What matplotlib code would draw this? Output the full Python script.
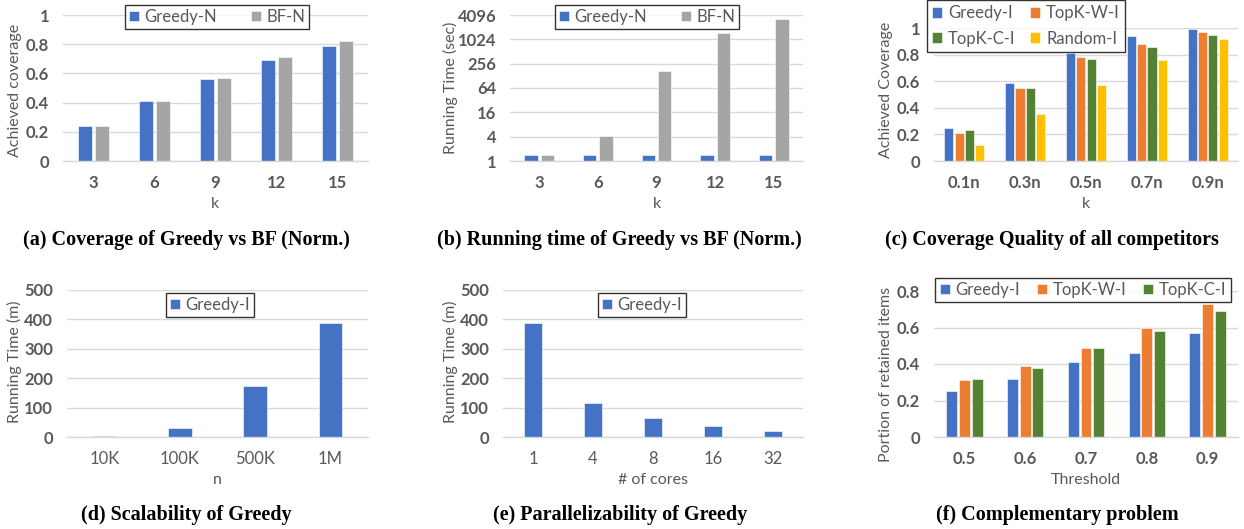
import numpy as np
import matplotlib
matplotlib.use("Agg")
import matplotlib.pyplot as plt
from matplotlib.ticker import FixedLocator, FixedFormatter

# ---------------- data ----------------
k_a = ["3", "6", "9", "12", "15"]
cov_greedy_n = [0.24, 0.41, 0.56, 0.69, 0.79]
cov_bf_n = [0.24, 0.41, 0.57, 0.71, 0.82]

time_greedy_n = [1.4, 1.4, 1.4, 1.4, 1.4]
time_bf_n = [1.4, 4.1, 172, 1500, 3300]

k_c = ["0.1n", "0.3n", "0.5n", "0.7n", "0.9n"]
cq_greedy = [0.25, 0.59, 0.81, 0.94, 0.99]
cq_topkw = [0.21, 0.55, 0.78, 0.88, 0.97]
cq_topkc = [0.23, 0.55, 0.77, 0.86, 0.95]
cq_random = [0.12, 0.35, 0.57, 0.76, 0.92]

n_d = ["10K", "100K", "500K", "1M"]
scal_greedy = [3, 32, 175, 387]

cores_e = ["1", "4", "8", "16", "32"]
par_greedy = [387, 117, 65, 37, 20]

thr_f = ["0.5", "0.6", "0.7", "0.8", "0.9"]
comp_greedy = [0.25, 0.32, 0.41, 0.46, 0.57]
comp_topkw = [0.31, 0.39, 0.49, 0.60, 0.73]
comp_topkc = [0.32, 0.38, 0.49, 0.58, 0.69]

# ---------------- style ----------------
BLUE = "#4472C4"
GRAY = "#A5A5A5"
ORANGE = "#ED7D31"
GREEN = "#548235"
YELLOW = "#FFC000"
TXT = "#595959"
GRID = "#D9D9D9"

plt.rcParams['font.family'] = ['Lato', 'DejaVu Sans']

W, H = 1244, 529
fig = plt.figure(figsize=(W / 100, H / 100), dpi=100)

TICK_FS = 12
LAB_FS = 11.5
LEG_FS = 12


def px_axes(x0, x1, ytop, ybot):
    return fig.add_axes([x0 / W, 1 - ybot / H, (x1 - x0) / W, (ybot - ytop) / H])


def style(ax, bold_x=True):
    for s in ["top", "right", "left"]:
        ax.spines[s].set_visible(False)
    ax.spines["bottom"].set_color(GRID)
    ax.spines["bottom"].set_linewidth(1.0)
    ax.grid(axis="y", color=GRID, linewidth=1.0)
    ax.set_axisbelow(True)
    ax.tick_params(axis="both", length=0)
    ax.tick_params(axis="y", pad=10, labelsize=TICK_FS, labelcolor=TXT)
    ax.tick_params(axis="x", pad=10, labelsize=TICK_FS, labelcolor=TXT)
    for t in ax.get_yticklabels():
        t.set_fontweight("bold")
    for t in ax.get_xticklabels():
        t.set_fontweight("bold" if bold_x else "normal")


def label_at(ax, text, px_x, px_y, axis):
    if axis == "y":
        ax.set_ylabel(text, fontsize=LAB_FS, color=TXT)
        ax.yaxis.set_label_coords(px_x / W, 1 - px_y / H, transform=fig.transFigure)
    else:
        ax.set_xlabel(text, fontsize=LAB_FS, color=TXT)
        ax.xaxis.set_label_coords(px_x / W, 1 - px_y / H, transform=fig.transFigure)


def grouped(ax, cats, series, colors, names, width, gap):
    x = np.arange(len(cats))
    n = len(series)
    step = width + gap
    offs = (np.arange(n) - (n - 1) / 2) * step
    for vals, c, nm, o in zip(series, colors, names, offs):
        ax.bar(x + o, vals, width, color=c, label=nm, edgecolor="white", linewidth=0.4)
    ax.set_xticks(x)
    ax.set_xticklabels(cats)
    ax.set_xlim(-0.5, len(cats) - 0.5)


def make_legend(handles, labels, cx, cy, ncol, colspace=2.0, labelspacing=0.45,
                borderpad=0.25):
    lg = fig.legend(handles, labels, loc="center",
                    bbox_to_anchor=(cx / W, 1 - cy / H), ncol=ncol,
                    frameon=True, fancybox=False, fontsize=LEG_FS,
                    handlelength=0.6, handleheight=0.6, handletextpad=0.35,
                    columnspacing=colspace, borderpad=borderpad,
                    labelspacing=labelspacing, borderaxespad=0)
    lg.get_frame().set_edgecolor("black")
    lg.get_frame().set_linewidth(1.0)
    for t in lg.get_texts():
        t.set_color(TXT)
    return lg


def legend(ax, cx, cy, ncol, colspace=2.0):
    h, l = ax.get_legend_handles_labels()
    return make_legend(h, l, cx, cy, ncol, colspace)


def caption(text, cx, cy):
    fig.text(cx / W, 1 - cy / H, text, ha="center", va="center",
             fontsize=14.5, fontweight="bold", family="Liberation Serif", color="black")


# ---------------- (a) ----------------
ax = px_axes(63, 368, 15, 161)
grouped(ax, k_a, [cov_greedy_n, cov_bf_n], [BLUE, GRAY], ["Greedy-N", "BF-N"], 0.23, 0.05)
ax.set_ylim(0, 1)
ax.set_yticks([0, 0.2, 0.4, 0.6, 0.8, 1])
ax.set_yticklabels(["0", "0.2", "0.4", "0.6", "0.8", "1"])
style(ax)
label_at(ax, "Achieved coverage", 22, 90, "y")
label_at(ax, "k", 215, 197, "x")
legend(ax, 217, 17, 2, 2.0)
caption("(a) Coverage of Greedy vs BF (Norm.)", 186, 240)

# ---------------- (b) ----------------
ax = px_axes(510, 803, 15, 161)
grouped(ax, k_a, [time_greedy_n, time_bf_n], [BLUE, GRAY], ["Greedy-N", "BF-N"], 0.23, 0.05)
ax.set_yscale("log", base=2)
ax.set_ylim(1, 4096)
yt = [1, 4, 16, 64, 256, 1024, 4096]
ax.yaxis.set_major_locator(FixedLocator(yt))
ax.yaxis.set_major_formatter(FixedFormatter([str(v) for v in yt]))
ax.yaxis.set_minor_locator(FixedLocator([]))
style(ax)
label_at(ax, "Running Time (sec)", 458, 88, "y")
label_at(ax, "k", 657, 197, "x")
legend(ax, 647, 17, 2, 2.0)
caption("(b) Running time of Greedy vs BF (Norm.)", 619, 240)

# ---------------- (c) ----------------
ax = px_axes(934, 1238, 28, 161)
grouped(ax, k_c, [cq_greedy, cq_topkw, cq_topkc, cq_random],
        [BLUE, ORANGE, GREEN, YELLOW],
        ["Greedy-I", "TopK-W-I", "TopK-C-I", "Random-I"], 0.15, 0.02)
ax.set_ylim(0, 1.0)
ax.set_yticks([0, 0.2, 0.4, 0.6, 0.8, 1])
ax.set_yticklabels(["0", "0.2", "0.4", "0.6", "0.8", "1"])
style(ax)
label_at(ax, "Achieved Coverage", 893, 90, "y")
label_at(ax, "k", 1086, 197, "x")
h, l = ax.get_legend_handles_labels()
order = [0, 2, 1, 3]
make_legend([h[i] for i in order], [l[i] for i in order], 1026, 26, 2,
            colspace=0.9, labelspacing=0.55, borderpad=0.3)
caption("(c) Coverage Quality of all competitors", 1052, 240)

# ---------------- (d) ----------------
ax = px_axes(67, 368, 290, 437)
grouped(ax, n_d, [scal_greedy], [BLUE], ["Greedy-I"], 0.31, 0.0)
ax.set_ylim(0, 500)
ax.set_yticks([0, 100, 200, 300, 400, 500])
style(ax, bold_x=False)
label_at(ax, "Running Time (m)", 22, 362, "y")
label_at(ax, "n", 217, 473, "x")
legend(ax, 210, 305, 1)
caption("(d) Scalability of Greedy", 186, 515)

# ---------------- (e) ----------------
ax = px_axes(503, 803, 290, 437)
grouped(ax, cores_e, [par_greedy], [BLUE], ["Greedy-I"], 0.30, 0.0)
ax.set_ylim(0, 500)
ax.set_yticks([0, 100, 200, 300, 400, 500])
style(ax, bold_x=False)
label_at(ax, "Running Time (m)", 458, 362, "y")
label_at(ax, "# of cores", 653, 473, "x")
legend(ax, 642, 305, 1)
caption("(e) Parallelizability of Greedy", 620, 515)

# ---------------- (f) ----------------
ax = px_axes(934, 1238, 291, 437)
grouped(ax, thr_f, [comp_greedy, comp_topkw, comp_topkc],
        [BLUE, ORANGE, GREEN], ["Greedy-I", "TopK-W-I", "TopK-C-I"], 0.18, 0.03)
ax.set_ylim(0, 0.8)
ax.set_yticks([0, 0.2, 0.4, 0.6, 0.8])
ax.set_yticklabels(["0", "0.2", "0.4", "0.6", "0.8"])
style(ax)
label_at(ax, "Portion of retained items", 893, 374, "y")
label_at(ax, "Threshold", 1086, 473, "x")
legend(ax, 1083, 290, 3, 1.0)
caption("(f) Complementary problem", 1057, 515)

fig.savefig("out.png", dpi=100)
